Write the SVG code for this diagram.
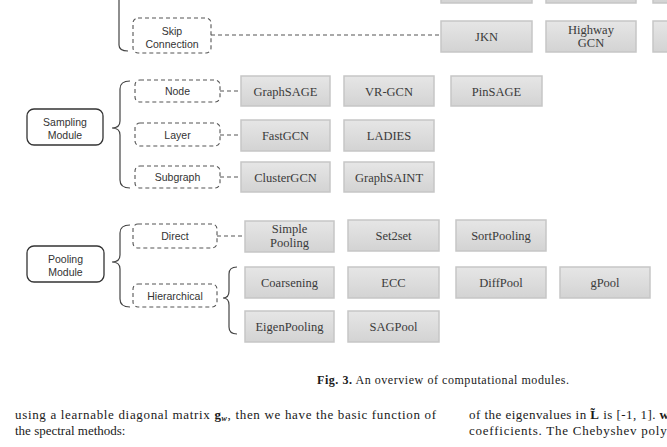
<svg xmlns="http://www.w3.org/2000/svg" width="667" height="447" viewBox="0 0 667 447">
<style>
.gb{fill:url(#gg);stroke:#c6c6c6;stroke-width:1.5}
.gt{font-family:"Liberation Serif",serif;font-size:12.5px;fill:#3a3a3a;text-anchor:middle}
.db{fill:#fff;stroke:#555;stroke-width:1.1;stroke-dasharray:4 3}
.dt{font-family:"Liberation Sans",sans-serif;font-size:10.5px;fill:#333;text-anchor:middle}
.mb{fill:#fff;stroke:#333;stroke-width:1.3}
.br{fill:none;stroke:#444;stroke-width:1.2}
.cn{fill:none;stroke:#555;stroke-width:1.1;stroke-dasharray:4 3}
.body{font-family:"Liberation Serif",serif;font-size:13px;fill:#1a1a1a}
</style>
<defs>
<linearGradient id="gg" x1="0" y1="0" x2="0" y2="1">
<stop offset="0" stop-color="#e6e6e6"/>
<stop offset="1" stop-color="#d3d3d3"/>
</linearGradient>
</defs>
<rect width="667" height="447" fill="#fff"/>

<g id="braces">
<path class="br" d="M119,0 L119,45 Q119,51 128,51"/>
<path class="br" d="M130,81 Q120,81 120,89 L120,121 Q120,128 112,128 Q120,128 120,135 L120,180 Q120,188 130,188"/>
<path class="br" d="M130,225 Q120,225 120,233 L120,255 Q120,262 112,262 Q120,262 120,269 L120,299 Q120,307 130,307"/>
<path class="br" d="M237,267 Q229,267 229,274 L229,291 Q229,298 223,298 Q229,298 229,305 L229,327 Q229,334 237,334"/>
</g>

<g id="connectors">
<path class="cn" d="M211,35 H441"/>
<path class="cn" d="M220,91 H241"/>
<path class="cn" d="M220,135 H241"/>
<path class="cn" d="M220,177 H241"/>
<path class="cn" d="M217,236 H245"/>
</g>

<g id="top-row">
<rect class="gb" x="441" y="-30" width="91" height="33"/>
<rect class="gb" x="546" y="-30" width="90" height="33"/>
<rect class="gb" x="653" y="-30" width="90" height="33"/>
</g>

<g id="skip-connection">
<rect class="db" x="133" y="18" width="78" height="35" rx="5"/>
<text class="dt" x="172" y="35">Skip</text>
<text class="dt" x="172" y="48">Connection</text>
</g>
<g id="jkn"><rect class="gb" x="441" y="21" width="91" height="31"/><text class="gt" x="486.5" y="41">JKN</text></g>
<g id="highway-gcn"><rect class="gb" x="546" y="21" width="90" height="31"/><text class="gt" x="591" y="34">Highway</text><text class="gt" x="591" y="47">GCN</text></g>
<g id="skip-third"><rect class="gb" x="653" y="21" width="90" height="31"/></g>

<g id="sampling-module">
<rect class="mb" x="27" y="109" width="76" height="36" rx="7"/>
<text class="dt" x="65" y="126" font-size="11">Sampling</text>
<text class="dt" x="65" y="139" font-size="11">Module</text>
</g>
<g id="node"><rect class="db" x="135" y="80" width="85" height="22" rx="5"/><text class="dt" x="177.5" y="95">Node</text></g>
<g id="layer"><rect class="db" x="135" y="123" width="85" height="23" rx="5"/><text class="dt" x="177.5" y="138.5">Layer</text></g>
<g id="subgraph"><rect class="db" x="135" y="166" width="85" height="22" rx="5"/><text class="dt" x="177.5" y="181">Subgraph</text></g>

<g id="graphsage"><rect class="gb" x="241" y="76" width="89" height="30"/><text class="gt" x="285.5" y="95.5">GraphSAGE</text></g>
<g id="vr-gcn"><rect class="gb" x="344" y="76" width="90" height="30"/><text class="gt" x="389" y="95.5">VR-GCN</text></g>
<g id="pinsage"><rect class="gb" x="451" y="76" width="91" height="30"/><text class="gt" x="496.5" y="95.5">PinSAGE</text></g>
<g id="fastgcn"><rect class="gb" x="241" y="120" width="89" height="31"/><text class="gt" x="285.5" y="140">FastGCN</text></g>
<g id="ladies"><rect class="gb" x="344" y="120" width="90" height="31"/><text class="gt" x="389" y="140">LADIES</text></g>
<g id="clustergcn"><rect class="gb" x="241" y="162" width="89" height="30"/><text class="gt" x="285.5" y="181.5">ClusterGCN</text></g>
<g id="graphsaint"><rect class="gb" x="344" y="162" width="90" height="30"/><text class="gt" x="389" y="181.5">GraphSAINT</text></g>

<g id="pooling-module">
<rect class="mb" x="27" y="246" width="77" height="36" rx="7"/>
<text class="dt" x="65.5" y="263" font-size="11">Pooling</text>
<text class="dt" x="65.5" y="276" font-size="11">Module</text>
</g>
<g id="direct"><rect class="db" x="133" y="224" width="84" height="24" rx="5"/><text class="dt" x="175" y="240">Direct</text></g>
<g id="hierarchical"><rect class="db" x="133" y="284" width="84" height="23" rx="5"/><text class="dt" x="175" y="299.5">Hierarchical</text></g>

<g id="simple-pooling"><rect class="gb" x="245" y="221" width="89" height="31"/><text class="gt" x="289.5" y="233">Simple</text><text class="gt" x="289.5" y="247">Pooling</text></g>
<g id="set2set"><rect class="gb" x="348" y="220" width="91" height="31"/><text class="gt" x="393.5" y="240">Set2set</text></g>
<g id="sortpooling"><rect class="gb" x="456" y="220" width="90" height="31"/><text class="gt" x="501" y="240">SortPooling</text></g>
<g id="coarsening"><rect class="gb" x="245" y="267" width="89" height="31"/><text class="gt" x="289.5" y="287">Coarsening</text></g>
<g id="ecc"><rect class="gb" x="348" y="267" width="91" height="31"/><text class="gt" x="393.5" y="287">ECC</text></g>
<g id="diffpool"><rect class="gb" x="456" y="267" width="90" height="31"/><text class="gt" x="501" y="287">DiffPool</text></g>
<g id="gpool"><rect class="gb" x="560" y="267" width="90" height="31"/><text class="gt" x="605" y="287">gPool</text></g>
<g id="eigenpooling"><rect class="gb" x="245" y="311" width="89" height="31"/><text class="gt" x="289.5" y="331">EigenPooling</text></g>
<g id="sagpool"><rect class="gb" x="348" y="311" width="91" height="31"/><text class="gt" x="393.5" y="331">SAGPool</text></g>

<g id="caption">
<text x="317" y="384" font-family="Liberation Serif,serif" font-size="12px" fill="#1a1a1a" textLength="252" lengthAdjust="spacing"><tspan font-weight="bold">Fig. 3.</tspan>  An overview of computational modules.</text>
</g>

<g id="body-text">
<text class="body" x="15" y="419" textLength="421" lengthAdjust="spacing">using a learnable diagonal matrix <tspan font-weight="bold">g</tspan><tspan font-weight="bold" font-style="italic" font-size="8px" dy="2">w</tspan><tspan dy="-2">, then we have the basic function of</tspan></text>
<text class="body" x="15" y="435">the spectral methods:</text>
<text class="body" x="469" y="419" textLength="200" lengthAdjust="spacing">of the eigenvalues in <tspan font-weight="bold">L̃</tspan> is [-1, 1]. <tspan font-weight="bold">w</tspan></text>
<text class="body" x="469" y="435" textLength="205" lengthAdjust="spacing">coefficients. The Chebyshev polyn</text>
</g>
</svg>
